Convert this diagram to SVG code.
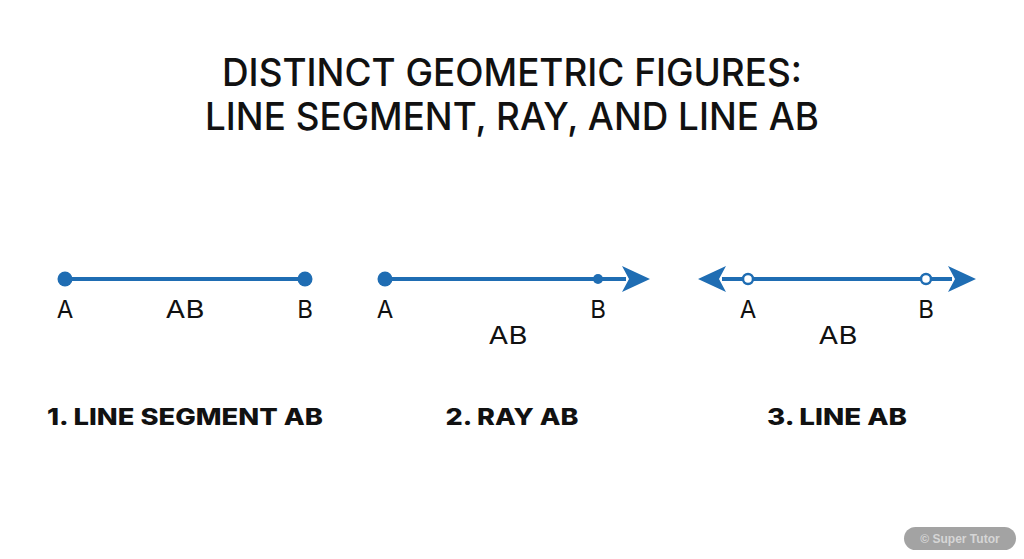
<svg xmlns="http://www.w3.org/2000/svg" width="1024" height="559" viewBox="0 0 1024 559">
<style>
.title{font-family:"Inter","Noto Sans",sans-serif;font-size:38px;fill:#111;text-anchor:middle;font-weight:500}
.lbl{font-family:"Inter","Noto Sans",sans-serif;font-size:24px;fill:#111;text-anchor:middle}
.cap{font-family:"Inter","Noto Sans",sans-serif;font-size:23px;font-weight:800;fill:#111;text-anchor:middle}
.ln{stroke:#1f6db3;stroke-width:4;fill:none}
.dot{fill:#1f6db3}
.open{fill:#fff;stroke:#1f6db3;stroke-width:2.5}
.wm{font-family:"Liberation Sans",Arial,sans-serif;font-size:12px;font-weight:bold;fill:#d6d6d6;text-anchor:middle}
</style>
<defs>
<marker id="arr" viewBox="0 0 28 26" refX="4" refY="13" markerWidth="28" markerHeight="26" markerUnits="userSpaceOnUse" orient="auto-start-reverse">
<path d="M0,0 L28,13 L0,26 L7,13 Z" fill="#1f6db3"/>
</marker>
</defs>
<rect width="1024" height="559" fill="#fff"/>
<g id="title">
<text class="title" x="512" y="86" textLength="580" lengthAdjust="spacingAndGlyphs">DISTINCT GEOMETRIC FIGURES:</text>
<text class="title" x="512" y="130" textLength="614" lengthAdjust="spacingAndGlyphs">LINE SEGMENT, RAY, AND LINE AB</text>
</g>
<g id="connectors">
<line class="ln" x1="65" y1="279" x2="305" y2="279"/>
<line class="ln" x1="385" y1="279" x2="626" y2="279" marker-end="url(#arr)"/>
<line class="ln" x1="722" y1="279" x2="952" y2="279" marker-start="url(#arr)" marker-end="url(#arr)"/>
</g>
<g id="segment">
<circle class="dot" cx="65" cy="279" r="7.5"/>
<circle class="dot" cx="305" cy="279" r="7.5"/>
<text class="lbl" x="65" y="318">A</text>
<text class="lbl" x="185" y="318" textLength="39" lengthAdjust="spacingAndGlyphs">AB</text>
<text class="lbl" x="305" y="318">B</text>
<text class="cap" x="185" y="425" textLength="276" lengthAdjust="spacingAndGlyphs">1. LINE SEGMENT AB</text>
</g>
<g id="ray">
<circle class="dot" cx="385" cy="279" r="7.5"/>
<circle class="dot" cx="598" cy="279" r="5"/>
<text class="lbl" x="385" y="318">A</text>
<text class="lbl" x="598" y="318">B</text>
<text class="lbl" x="508" y="344" textLength="39" lengthAdjust="spacingAndGlyphs">AB</text>
<text class="cap" x="512" y="425" textLength="133" lengthAdjust="spacingAndGlyphs">2. RAY AB</text>
</g>
<g id="line">
<circle class="open" cx="748" cy="279" r="5"/>
<circle class="open" cx="926" cy="279" r="5"/>
<text class="lbl" x="748" y="318">A</text>
<text class="lbl" x="926" y="318">B</text>
<text class="lbl" x="838" y="344" textLength="39" lengthAdjust="spacingAndGlyphs">AB</text>
<text class="cap" x="837" y="425" textLength="140" lengthAdjust="spacingAndGlyphs">3. LINE AB</text>
</g>
<g id="watermark">
<rect x="904" y="527" width="112" height="23" rx="11.5" fill="#a3a3a3"/>
<text class="wm" x="960" y="543">© Super Tutor</text>
</g>
</svg>
